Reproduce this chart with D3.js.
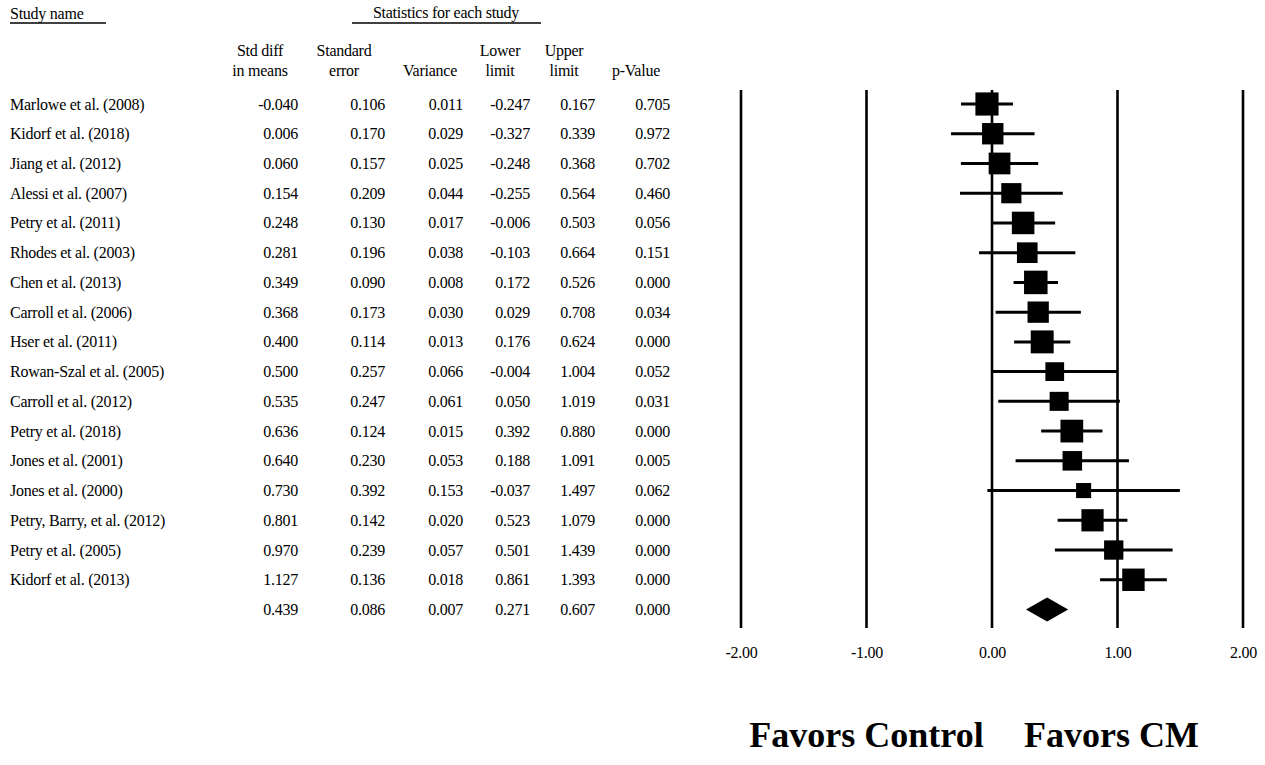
<!DOCTYPE html>
<html>
<head>
<meta charset="utf-8">
<script src="https://cdn.jsdelivr.net/npm/d3@7"></script>
<style>
  html, body { margin: 0; padding: 0; background: #fff; }
  svg { display: block; }
  text { font-family: "Liberation Serif", "Times New Roman", serif; fill: #000; }
  .tbl { font-size: 16px; letter-spacing: -0.25px; }
</style>
</head>
<body>
<svg id="chart" width="1265" height="765"></svg>
<script>
// ---------------- data ----------------
const studies = [
  "Marlowe et al. (2008)", "Kidorf et al. (2018)", "Jiang et al. (2012)", "Alessi et al. (2007)",
  "Petry et al. (2011)", "Rhodes et al. (2003)", "Chen et al. (2013)", "Carroll et al. (2006)",
  "Hser et al. (2011)", "Rowan-Szal et al. (2005)", "Carroll et al. (2012)", "Petry et al. (2018)",
  "Jones et al. (2001)", "Jones et al. (2000)", "Petry, Barry, et al. (2012)", "Petry et al. (2005)",
  "Kidorf et al. (2013)"
];
const stdDiff  = [-0.040, 0.006, 0.060, 0.154, 0.248, 0.281, 0.349, 0.368, 0.400, 0.500, 0.535, 0.636, 0.640, 0.730, 0.801, 0.970, 1.127];
const stdErr   = [0.106, 0.170, 0.157, 0.209, 0.130, 0.196, 0.090, 0.173, 0.114, 0.257, 0.247, 0.124, 0.230, 0.392, 0.142, 0.239, 0.136];
const variance = [0.011, 0.029, 0.025, 0.044, 0.017, 0.038, 0.008, 0.030, 0.013, 0.066, 0.061, 0.015, 0.053, 0.153, 0.020, 0.057, 0.018];
const lowerLim = [-0.247, -0.327, -0.248, -0.255, -0.006, -0.103, 0.172, 0.029, 0.176, -0.004, 0.050, 0.392, 0.188, -0.037, 0.523, 0.501, 0.861];
const upperLim = [0.167, 0.339, 0.368, 0.564, 0.503, 0.664, 0.526, 0.708, 0.624, 1.004, 1.019, 0.880, 1.091, 1.497, 1.079, 1.439, 1.393];
const pValue   = [0.705, 0.972, 0.702, 0.460, 0.056, 0.151, 0.000, 0.034, 0.000, 0.052, 0.031, 0.000, 0.005, 0.062, 0.000, 0.000, 0.000];
// summary: std diff, SE, variance, lower, upper, p
const summaryValues = [0.439, 0.086, 0.007, 0.271, 0.607, 0.000];

const columnHeaders = [["Std diff", "in means"], ["Standard", "error"], ["", "Variance"], ["Lower", "limit"], ["Upper", "limit"], ["", "p-Value"]];
const tickValues = [-2, -1, 0, 1, 2];
const tickLabels = ["-2.00", "-1.00", "0.00", "1.00", "2.00"];
const favorLabels = ["Favors Control", "Favors CM"];

// ---------------- layout ----------------
const svg = d3.select("#chart");
const loc = d3.formatLocale({decimal: ".", thousands: ",", grouping: [3], currency: ["", ""], minus: "-"});
const f3 = loc.format(".3f");

const nRows = studies.length + 1;
const y = d3.scaleLinear().domain([0, nRows - 1]).range([104, 609.5]);
const x = d3.scaleLinear().domain([-2, 2]).range([741, 1243]);

// random-effects weights: tau^2 solved so that sum of weights matches summary SE
const targetW = 1 / (summaryValues[1] * summaryValues[1]);
let lo = 0, hi = 2;
for (let k = 0; k < 60; k++) {
  const mid = (lo + hi) / 2;
  const s = d3.sum(variance, v => 1 / (v + mid));
  if (s > targetW) lo = mid; else hi = mid;
}
const tau2 = (lo + hi) / 2;
const weights = variance.map(v => 1 / (v + tau2));
const side = d3.scaleSqrt().domain([0, d3.max(weights)]).range([0, 23.5]);

// ---------------- table headers ----------------
svg.append("text").attr("class", "tbl").attr("x", 10).attr("y", 13).attr("dominant-baseline", "central")
  .text("Study name");
svg.append("line").attr("x1", 10).attr("x2", 106).attr("y1", 23).attr("y2", 23)
  .attr("stroke", "#000").attr("stroke-width", 1.3);

svg.append("text").attr("class", "tbl").attr("x", 446).attr("y", 12).attr("dominant-baseline", "central")
  .attr("text-anchor", "middle").text("Statistics for each study");
svg.append("line").attr("x1", 352).attr("x2", 541).attr("y1", 23).attr("y2", 23)
  .attr("stroke", "#000").attr("stroke-width", 1.3);

const colRight = [298, 385, 463, 530, 595, 670];
const colHeadCenter = [260, 344, 430, 500, 564, 636];
columnHeaders.forEach((h, i) => {
  h.forEach((t, j) => {
    if (!t) return;
    svg.append("text").attr("class", "tbl").attr("x", colHeadCenter[i]).attr("y", 50 + j * 20.5)
      .attr("dominant-baseline", "central").attr("text-anchor", "middle").text(t);
  });
});

// ---------------- table rows ----------------
const rows = studies.map((s, i) => ({
  name: s, vals: [stdDiff[i], stdErr[i], variance[i], lowerLim[i], upperLim[i], pValue[i]]
}));
rows.push({name: "", vals: summaryValues});

const rowG = svg.append("g").selectAll("g").data(rows).join("g")
  .attr("transform", (d, i) => `translate(0,${y(i)})`);
rowG.append("text").attr("class", "tbl").attr("x", 10).attr("dominant-baseline", "central")
  .text(d => d.name);
rowG.each(function(d) {
  d3.select(this).selectAll("text.v").data(d.vals).join("text").attr("class", "v tbl")
    .attr("x", (v, j) => colRight[j]).attr("text-anchor", "end")
    .attr("dominant-baseline", "central")
    .text(v => f3(v));
});

// ---------------- forest plot ----------------
const plot = svg.append("g");
plot.selectAll("line.grid").data(tickValues).join("line").attr("class", "grid")
  .attr("x1", d => x(d)).attr("x2", d => x(d)).attr("y1", 90).attr("y2", 628)
  .attr("stroke", "#000").attr("stroke-width", 2.6);

// axis labels
const axis = d3.axisBottom(x).tickValues(tickValues).tickSize(0).tickPadding(0)
  .tickFormat((d, i) => tickLabels[i]);
const axG = svg.append("g").attr("transform", "translate(0,647)").call(axis);
axG.attr("font-size", null).attr("font-family", null);
axG.select(".domain").remove();
axG.selectAll("text").attr("class", "tbl").attr("fill", "#000");

// CI lines
plot.selectAll("line.ci").data(studies).join("line").attr("class", "ci")
  .attr("x1", (d, i) => x(lowerLim[i])).attr("x2", (d, i) => x(upperLim[i]))
  .attr("y1", (d, i) => y(i)).attr("y2", (d, i) => y(i))
  .attr("stroke", "#000").attr("stroke-width", 3);

// squares
plot.selectAll("rect.pt").data(studies).join("rect").attr("class", "pt")
  .attr("x", (d, i) => x(stdDiff[i]) - side(weights[i]) / 2)
  .attr("y", (d, i) => y(i) - side(weights[i]) / 2)
  .attr("width", (d, i) => side(weights[i]))
  .attr("height", (d, i) => side(weights[i]))
  .attr("fill", "#000");

// summary diamond
const sy = y(nRows - 1);
const dh = 12;
plot.append("path")
  .attr("d", d3.line()([
    [x(summaryValues[3]), sy], [x(summaryValues[0]), sy - dh],
    [x(summaryValues[4]), sy], [x(summaryValues[0]), sy + dh]
  ]) + "Z")
  .attr("fill", "#000");

// favours labels
svg.append("text").attr("x", x(-1)).attr("y", 747).attr("text-anchor", "middle")
  .attr("font-size", 36).attr("font-weight", "bold").text(favorLabels[0]);
svg.append("text").attr("x", x(1) - 6).attr("y", 747).attr("text-anchor", "middle")
  .attr("font-size", 36).attr("font-weight", "bold").text(favorLabels[1]);
</script>
</body>
</html>
